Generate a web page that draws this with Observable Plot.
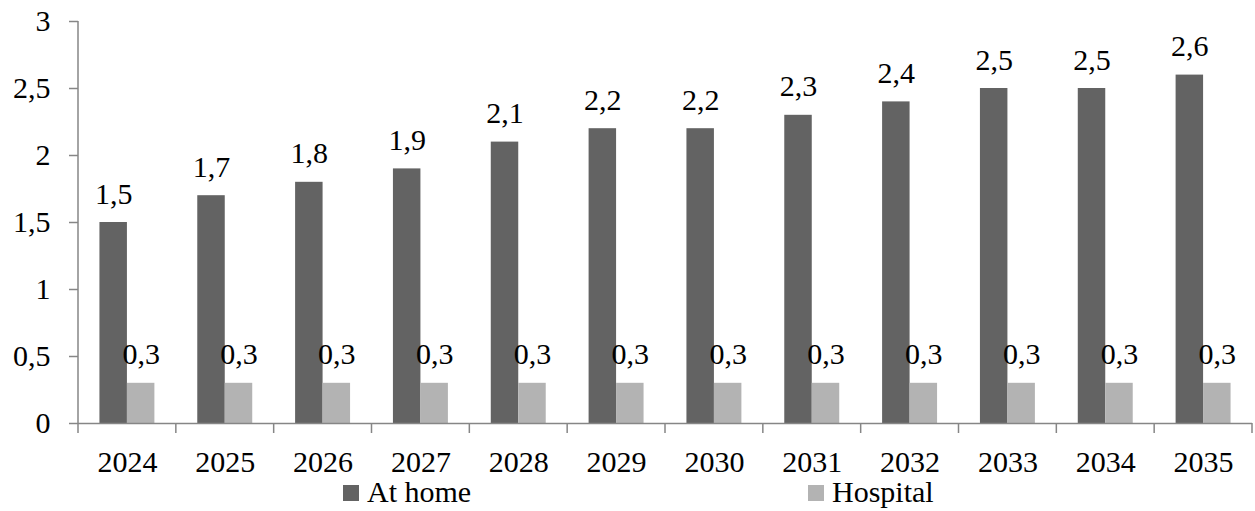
<!DOCTYPE html>
<html><head><meta charset="utf-8">
<script src="https://cdn.jsdelivr.net/npm/d3@7"></script>
<script src="https://cdn.jsdelivr.net/npm/@observablehq/plot@0.6"></script>
<style>
body{margin:0;background:#fff;font-family:"Liberation Serif","Times New Roman",serif;}
#wrap{position:relative;width:1255px;height:511px;overflow:hidden;}
.sw{position:absolute;width:16px;height:16px;top:485px;}
.lt{position:absolute;top:481px;font-size:30px;line-height:22px;color:#000;white-space:nowrap;}
</style></head><body>
<div id="wrap"><div id="chart"></div>
<div class="sw" id="sw0" style="left:343px"></div><div class="lt" id="lt0" style="left:367px"></div>
<div class="sw" id="sw1" style="left:808px"></div><div class="lt" id="lt1" style="left:832px"></div>
</div>
<script>
const years = ["2024","2025","2026","2027","2028","2029","2030","2031","2032","2033","2034","2035"];
const series = ["At home","Hospital"];
const atHome = [1.5,1.7,1.8,1.9,2.1,2.2,2.2,2.3,2.4,2.5,2.5,2.6];
const hospital = [0.3,0.3,0.3,0.3,0.3,0.3,0.3,0.3,0.3,0.3,0.3,0.3];
const yTicks = [0,0.5,1,1.5,2,2.5,3];
const colors = ["#636363","#b3b3b3"];

const rows = [];
years.forEach((yr,i)=>{
  rows.push({year:yr, series:series[0], value:atHome[i]});
  rows.push({year:yr, series:series[1], value:hospital[i]});
});
const fmt = v => String(v).replace(".", ",");
const axisColor = "#868686";

const plot = Plot.plot({
  width:1255, height:480,
  marginLeft:78, marginRight:3, marginTop:21, marginBottom:57,
  style:{fontFamily:'"Liberation Serif","Times New Roman",serif', fontSize:"30px", color:"#000", background:"#fff", overflow:"visible"},
  fx:{domain:years, padding:0, round:false, axis:null, label:null},
  x:{domain:series, paddingInner:0, paddingOuter:0.78, round:false, axis:null},
  y:{domain:[0,3], axis:null},
  color:{domain:series, range:colors},
  marks:[
    Plot.barY(rows,{fx:"year", x:"series", y:"value", fill:"series"}),
    Plot.ruleY([0],{stroke:axisColor, strokeWidth:1.5}),
    Plot.text(rows,{fx:"year", x:"series", y:"value", text:d=>fmt(d.value), lineAnchor:"bottom", dy:-19, fill:"#000", fontSize:30}),
    Plot.axisY({ticks:yTicks, tickFormat:fmt, tickSize:9, tickPadding:19, stroke:axisColor, strokeWidth:1.5, fill:"#000", fontSize:30, label:null}),
    Plot.axisFx({anchor:"bottom", tickSize:0, tickPadding:27, label:null, fill:"#000", fontSize:30})
  ]
});
document.getElementById("chart").appendChild(plot);

// axis line and category boundary ticks, placed with the plot's own scales
const fx = plot.scale("fx"), ys = plot.scale("y");
const svg = d3.select(plot);
const y0 = ys.apply(0), y3 = ys.apply(3);
const xLeft = fx.apply(years[0]);
svg.append("line").attr("x1",xLeft).attr("x2",xLeft).attr("y1",y3).attr("y2",y0)
  .attr("stroke",axisColor).attr("stroke-width",1.5);
const bounds = years.map(yr=>fx.apply(yr)).concat([fx.apply(years[years.length-1])+fx.bandwidth]);
svg.append("g").selectAll("line").data(bounds).join("line")
  .attr("x1",d=>d).attr("x2",d=>d).attr("y1",y0).attr("y2",y0+10)
  .attr("stroke",axisColor).attr("stroke-width",1.5);

series.forEach((s,i)=>{
  document.getElementById("sw"+i).style.background = colors[i];
  document.getElementById("lt"+i).textContent = s;
});
</script>
</body></html>
